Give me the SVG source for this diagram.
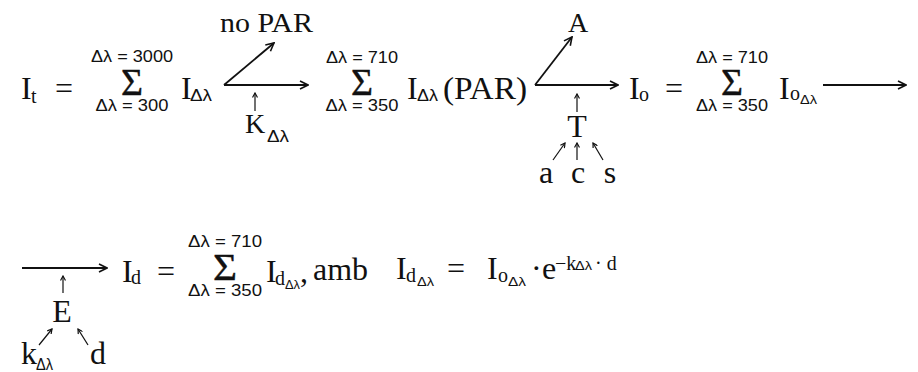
<svg xmlns="http://www.w3.org/2000/svg" width="918" height="372" viewBox="0 0 918 372">
<style>
.m{font-family:"Liberation Serif","Times New Roman",serif;font-size:32px;fill:#111}
.lab{font-family:"Liberation Serif","Times New Roman",serif;font-size:28px;fill:#111}
.sg{font-family:"Liberation Serif","Times New Roman",serif;font-size:37px;fill:#111;stroke:#111;stroke-width:0.4}
.lim{font-family:"Liberation Sans",Arial,sans-serif;font-size:16px;fill:#111}
.sub{font-family:"Liberation Sans",Arial,sans-serif;font-size:16px;fill:#111}
.ss{font-family:"Liberation Sans",Arial,sans-serif;font-size:13px;fill:#111}
.so{font-family:"Liberation Serif","Times New Roman",serif;font-size:20px;fill:#111}
.big{stroke:#111;stroke-width:1.8;fill:none}
.sm{stroke:#111;stroke-width:1.2;fill:none}
</style>
<defs>
<marker id="ah" markerWidth="10" markerHeight="10" refX="9" refY="5" orient="auto" markerUnits="userSpaceOnUse">
<path d="M1,1 L9,5 L1,9" fill="none" stroke="#111" stroke-width="1.6"/>
</marker>
<marker id="as" markerWidth="6" markerHeight="6" refX="5" refY="3" orient="auto" markerUnits="userSpaceOnUse">
<path d="M0.5,0.5 L5,3 L0.5,5.5" fill="none" stroke="#111" stroke-width="1.2"/>
</marker>
</defs>

<g id="connectors">
<line class="big" x1="224" y1="85" x2="308" y2="85" marker-end="url(#ah)"/>
<line class="big" x1="224" y1="85" x2="274" y2="43" marker-end="url(#ah)"/>
<line class="sm" x1="255" y1="111" x2="255" y2="93" marker-end="url(#as)"/>
<line class="big" x1="535" y1="85" x2="618" y2="85" marker-end="url(#ah)"/>
<line class="big" x1="535" y1="85" x2="572" y2="37" marker-end="url(#ah)"/>
<line class="sm" x1="577" y1="112" x2="577" y2="94" marker-end="url(#as)"/>
<line class="sm" x1="553" y1="160" x2="565" y2="143" marker-end="url(#as)"/>
<line class="sm" x1="577" y1="160" x2="577" y2="143" marker-end="url(#as)"/>
<line class="sm" x1="603" y1="160" x2="593" y2="143" marker-end="url(#as)"/>
<line class="big" x1="823" y1="85" x2="906" y2="85" marker-end="url(#ah)"/>
<line class="big" x1="22" y1="268" x2="107" y2="268" marker-end="url(#ah)"/>
<line class="sm" x1="63" y1="293" x2="63" y2="276" marker-end="url(#as)"/>
<line class="sm" x1="39" y1="345" x2="52" y2="329" marker-end="url(#as)"/>
<line class="sm" x1="88" y1="345" x2="78" y2="329" marker-end="url(#as)"/>
</g>

<g id="It">
<text class="m" x="21" y="99">I</text><text class="so" x="31" y="103">t</text>
<text class="m" x="55" y="99">=</text>
</g>
<g id="sum1">
<text class="lim" x="132" y="62" text-anchor="middle" textLength="82" lengthAdjust="spacingAndGlyphs">Δλ = 3000</text>
<text class="sg" x="121" y="95" textLength="22" lengthAdjust="spacingAndGlyphs">Σ</text>
<text class="lim" x="132" y="111" text-anchor="middle" textLength="73" lengthAdjust="spacingAndGlyphs">Δλ = 300</text>
<text class="m" x="181" y="99">I</text><text class="sub" x="190" y="101" textLength="22" lengthAdjust="spacingAndGlyphs">Δλ</text>
</g>
<g id="noPAR"><text class="lab" x="220" y="32" textLength="93" lengthAdjust="spacingAndGlyphs">no PAR</text></g>
<g id="K"><text class="lab" x="245" y="133">K</text><text class="sub" x="267" y="142" textLength="22" lengthAdjust="spacingAndGlyphs">Δλ</text></g>
<g id="sum2">
<text class="lim" x="362" y="63" text-anchor="middle" textLength="72" lengthAdjust="spacingAndGlyphs">Δλ = 710</text>
<text class="sg" x="351" y="95" textLength="22" lengthAdjust="spacingAndGlyphs">Σ</text>
<text class="lim" x="362" y="111" text-anchor="middle" textLength="73" lengthAdjust="spacingAndGlyphs">Δλ = 350</text>
<text class="m" x="407" y="99">I</text><text class="sub" x="417" y="101" textLength="21" lengthAdjust="spacingAndGlyphs">Δλ</text>
<text class="m" x="443" y="99" textLength="84" lengthAdjust="spacingAndGlyphs">(PAR)</text>
</g>
<g id="A"><text class="lab" x="578" y="32" text-anchor="middle">A</text></g>
<g id="T"><text class="m" x="577" y="137" text-anchor="middle">T</text></g>
<g id="a"><text class="m" x="546" y="183" text-anchor="middle">a</text></g>
<g id="c"><text class="m" x="578" y="183" text-anchor="middle">c</text></g>
<g id="s"><text class="m" x="610" y="183" text-anchor="middle">s</text></g>
<g id="Io">
<text class="m" x="629" y="99">I</text><text class="so" x="639" y="101">o</text>
<text class="m" x="665" y="99">=</text>
<text class="lim" x="732" y="63" text-anchor="middle" textLength="72" lengthAdjust="spacingAndGlyphs">Δλ = 710</text>
<text class="sg" x="721" y="95" textLength="22" lengthAdjust="spacingAndGlyphs">Σ</text>
<text class="lim" x="732" y="111" text-anchor="middle" textLength="72" lengthAdjust="spacingAndGlyphs">Δλ = 350</text>
<text class="m" x="779" y="99">I</text><text class="so" x="790" y="100">o</text><text class="ss" x="800" y="104" textLength="17" lengthAdjust="spacingAndGlyphs">Δλ</text>
</g>

<g id="E"><text class="m" x="62" y="322" text-anchor="middle">E</text></g>
<g id="k"><text class="m" x="21" y="364">k</text><text class="sub" x="36" y="370" textLength="17" lengthAdjust="spacingAndGlyphs">Δλ</text></g>
<g id="d"><text class="m" x="90" y="364">d</text></g>
<g id="Id">
<text class="m" x="122" y="282">I</text><text class="so" x="131" y="284">d</text>
<text class="m" x="157" y="282">=</text>
<text class="lim" x="225" y="247" text-anchor="middle" textLength="74" lengthAdjust="spacingAndGlyphs">Δλ = 710</text>
<text class="sg" x="213" y="280" textLength="24" lengthAdjust="spacingAndGlyphs">Σ</text>
<text class="lim" x="225" y="296" text-anchor="middle" textLength="74" lengthAdjust="spacingAndGlyphs">Δλ = 350</text>
<text class="m" x="266" y="282">I</text><text class="so" x="275" y="285">d</text><text class="ss" x="285" y="289" textLength="15" lengthAdjust="spacingAndGlyphs">Δλ</text><text class="m" x="300" y="282">,</text>
<text class="m" x="313" y="280">amb</text>
<text class="m" x="396" y="279">I</text><text class="so" x="406" y="282">d</text><text class="ss" x="417" y="286" textLength="17" lengthAdjust="spacingAndGlyphs">Δλ</text>
<text class="m" x="447" y="279">=</text>
<text class="m" x="487" y="279">I</text><text class="so" x="498" y="282">o</text><text class="ss" x="508" y="286" textLength="18" lengthAdjust="spacingAndGlyphs">Δλ</text>
<text class="m" x="531" y="279">·</text>
<text class="m" x="542" y="279">e</text>
<text class="so" x="555" y="270">−k</text><text class="ss" x="575" y="270" textLength="17" lengthAdjust="spacingAndGlyphs">Δλ</text><text class="so" x="595" y="270">· d</text>
</g>
</svg>
